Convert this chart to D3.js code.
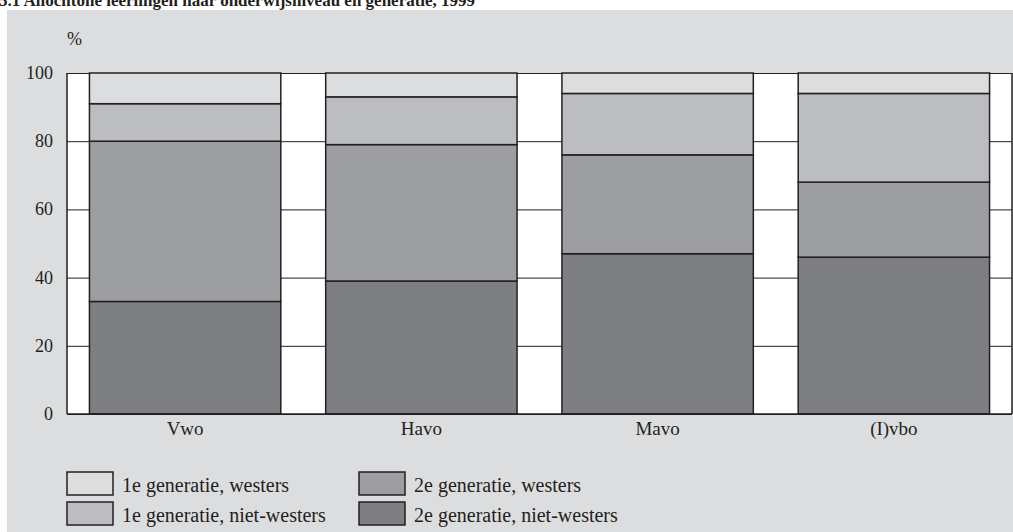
<!DOCTYPE html>
<html>
<head>
<meta charset="utf-8">
<script src="https://cdn.jsdelivr.net/npm/d3@7"></script>
<style>
  body { margin: 0; background: #fff; }
  text { font-family: "Liberation Serif", "DejaVu Serif", serif; fill: #231f20; }
</style>
</head>
<body>
<div id="chart"></div>
<script>
// categories and series (percentages, stacked bottom -> top)
var levels = ['Vwo', 'Havo', 'Mavo', '(I)vbo'];
var gen2NietWesters = [33, 39, 47, 46];
var gen2Westers = [47, 40, 29, 22];
var gen1NietWesters = [11, 14, 18, 26];
var gen1Westers = [9, 7, 6, 6];
var yTicks = [0, 20, 40, 60, 80, 100];

var seriesKeys = ['2e generatie, niet-westers', '2e generatie, westers', '1e generatie, niet-westers', '1e generatie, westers'];
var seriesValues = [gen2NietWesters, gen2Westers, gen1NietWesters, gen1Westers];

var width = 1013, height = 532;
var margin = {left: 67, right: 1, top: 73, bottom: 118};

var svg = d3.select('#chart').append('svg')
  .attr('width', width)
  .attr('height', height);

// grey panel
svg.append('rect')
  .attr('x', 7).attr('y', 10)
  .attr('width', width - 7).attr('height', height - 10)
  .attr('fill', '#dcdddf');

// title (cut off at the top like the source)
svg.append('text')
  .attr('x', -1).attr('y', 6)
  .style('font-weight', 'bold')
  .style('font-size', '17px')
  .text('5.1  Allochtone leerlingen naar onderwijsniveau en generatie, 1999');

var x = d3.scaleBand()
  .domain(levels)
  .range([margin.left, width - margin.right])
  .paddingInner(0.19)
  .paddingOuter(0.095);

var y = d3.scaleLinear()
  .domain([0, 100])
  .range([height - margin.bottom, margin.top]);

// white plot area
svg.append('rect')
  .attr('x', margin.left).attr('y', y(100))
  .attr('width', width - margin.right - margin.left)
  .attr('height', y(0) - y(100))
  .attr('fill', '#fff');

// gridlines
svg.append('g')
  .attr('transform', 'translate(' + margin.left + ',0)')
  .call(d3.axisRight(y).tickValues(yTicks).tickSize(width - margin.right - margin.left).tickFormat(''))
  .call(function(g) { g.select('.domain').remove(); })
  .selectAll('line').attr('stroke', '#231f20').attr('stroke-width', 1);

// left / right frame
svg.append('line')
  .attr('x1', margin.left).attr('x2', margin.left)
  .attr('y1', y(100)).attr('y2', y(0))
  .attr('stroke', '#231f20').attr('stroke-width', 1.5);
svg.append('line')
  .attr('x1', width - margin.right).attr('x2', width - margin.right)
  .attr('y1', y(100)).attr('y2', y(0))
  .attr('stroke', '#231f20').attr('stroke-width', 1.5);

// stacked data
var table = levels.map(function(l, i) {
  var row = {level: l};
  seriesKeys.forEach(function(k, j) { row[k] = seriesValues[j][i]; });
  return row;
});
var stack = d3.stack().keys(seriesKeys)(table);

var color = d3.scaleOrdinal()
  .domain(seriesKeys)
  .range(['#7e7f83', '#9d9ea1', '#bcbdc0', '#dcdddf']);

svg.append('g')
  .selectAll('g')
  .data(stack)
  .enter()
  .append('g')
  .attr('fill', function(d) { return color(d.key); })
  .selectAll('rect')
  .data(function(d) { return d; })
  .enter()
  .append('rect')
  .attr('x', function(d) { return x(d.data.level); })
  .attr('y', function(d) { return y(d[1]); })
  .attr('width', x.bandwidth())
  .attr('height', function(d) { return y(d[0]) - y(d[1]); })
  .attr('stroke', '#231f20')
  .attr('stroke-width', 1.5);

// bottom axis line
svg.append('line')
  .attr('x1', margin.left).attr('x2', width - margin.right)
  .attr('y1', y(0)).attr('y2', y(0))
  .attr('stroke', '#231f20').attr('stroke-width', 1.5);

// y tick labels
svg.append('g')
  .selectAll('text')
  .data(yTicks)
  .enter()
  .append('text')
  .attr('x', 53)
  .attr('y', function(d) { return y(d) + 6; })
  .attr('text-anchor', 'end')
  .style('font-size', '18px')
  .text(function(d) { return d; });

svg.append('text')
  .attr('x', 67).attr('y', 45)
  .style('font-size', '18px')
  .text('%');

// x labels
svg.append('g')
  .selectAll('text')
  .data(levels)
  .enter()
  .append('text')
  .attr('x', function(d) { return x(d) + x.bandwidth() / 2; })
  .attr('y', y(0) + 21)
  .attr('text-anchor', 'middle')
  .style('font-size', '19px')
  .text(function(d) { return d; });

// legend
var legendOrder = ['1e generatie, westers', '1e generatie, niet-westers', '2e generatie, westers', '2e generatie, niet-westers'];
var legend = svg.append('g')
  .selectAll('g')
  .data(legendOrder)
  .enter()
  .append('g')
  .attr('transform', function(d, i) {
    var col = Math.floor(i / 2), row = i % 2;
    return 'translate(' + (67 + col * 292) + ',' + (472 + row * 30) + ')';
  });

legend.append('rect')
  .attr('width', 46).attr('height', 23)
  .attr('fill', function(d) { return color(d); })
  .attr('stroke', '#231f20')
  .attr('stroke-width', 1.5);

legend.append('text')
  .attr('x', 55).attr('y', 20)
  .style('font-size', '20px')
  .text(function(d) { return d; });
</script>
</body>
</html>
